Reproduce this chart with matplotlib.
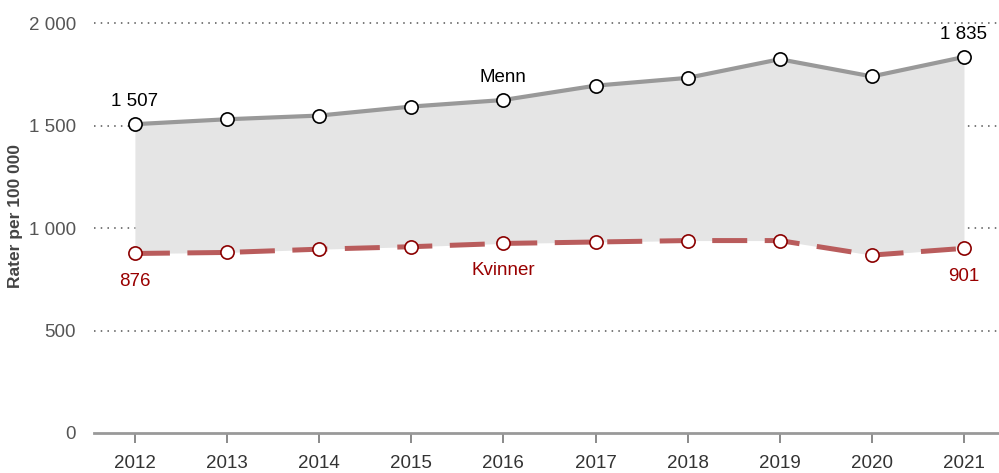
import numpy as np
from matplotlib import pyplot as plt

plt.rcParams['font.family'] = ['Liberation Sans', 'DejaVu Sans']

years = [2012, 2013, 2014, 2015, 2016, 2017, 2018, 2019, 2020, 2021]
menn = [1507, 1531, 1549, 1593, 1625, 1695, 1733, 1824, 1740, 1835]
kvinner = [876, 881, 897, 909, 925, 932, 939, 939, 868, 901]
yticks = [0, 500, 1000, 1500, 2000]
ytick_labels = ['0', '500', '1 000', '1 500', '2 000']

grey_line = '#999999'
red_line = '#b95c5c'
red_text = '#990000'

fig = plt.figure(figsize=(9.99, 4.73), dpi=100)
ax = fig.add_axes([0.094, 0.0846, 0.906, 0.9154])

# grid first, the fill covers it
for v in yticks[1:]:
    ax.axhline(v, color='#555555', lw=1.1, ls=(0, (1, 3.4)), zorder=0)

ax.fill_between(years, kvinner, menn, color='#e5e5e5', lw=0, zorder=1)

ax.plot(years, menn, color=grey_line, lw=3, zorder=2)
ax.plot(years, kvinner, color=red_line, lw=3.6, ls=(0, (7, 3.5)), zorder=2)
ax.plot(years, menn, 'o', ms=9.5, mfc='white', mec='black', mew=1.2, zorder=3)
ax.plot(years, kvinner, 'o', ms=9.5, mfc='white', mec='#8b0000', mew=1.2, zorder=3)

# series labels and end values
fs = 13.5
ax.text(2016, 1733, 'Menn', ha='center', va='center', fontsize=fs, color='black')
ax.text(2016, 791, 'Kvinner', ha='center', va='center', fontsize=fs, color=red_text)
ax.text(years[0], menn[0] + 112, '1 507', ha='center', va='center', fontsize=fs)
ax.text(years[-1], menn[-1] + 108, '1 835', ha='center', va='center', fontsize=fs)
ax.text(years[0], kvinner[0] - 135, '876', ha='center', va='center', fontsize=fs, color=red_text)
ax.text(years[-1], kvinner[-1] - 136, '901', ha='center', va='center', fontsize=fs, color=red_text)

ax.set_xlim(2011.555, 2021.38)
ax.set_ylim(0, 2113)
ax.set_xticks(years)
ax.set_xticklabels([str(y) for y in years])
ax.set_yticks(yticks)
ax.set_yticklabels(ytick_labels)

for s in ['top', 'right', 'left']:
    ax.spines[s].set_visible(False)
ax.spines['bottom'].set_color(grey_line)
ax.spines['bottom'].set_linewidth(2)
ax.tick_params(axis='x', length=7, width=1.2, color='#777777', labelsize=13.5,
               labelcolor='#333333', pad=9)
ax.tick_params(axis='y', length=0, labelsize=13.5, labelcolor='#555555', pad=13)

ax.set_ylabel('Rater per 100 000', fontsize=12.5, fontweight='bold', color='#444444',
              labelpad=4)

fig.savefig('out.png', dpi=100)
